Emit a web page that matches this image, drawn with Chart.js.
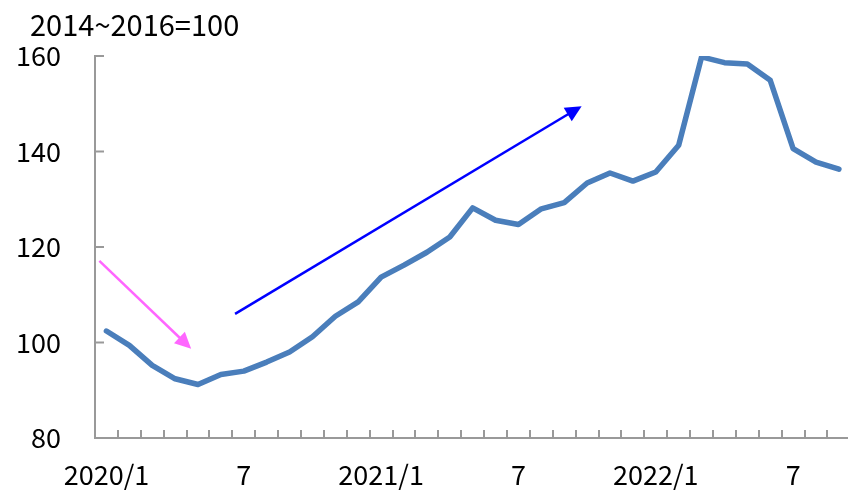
<!DOCTYPE html>
<html>
<head>
<meta charset="utf-8">
<script src="https://cdn.jsdelivr.net/npm/chart.js@4"></script>
<style>
	html, body { margin: 0; padding: 0; background: #fff; overflow: hidden; }
</style>
</head>
<body>
<canvas id="myChart" width="860" height="490"></canvas>
<script>
const ctx = document.getElementById('myChart');

// 2020/1 .. 2022/9, monthly
const months = [
	'2020/1', '', '', '', '', '', '7', '', '', '', '', '',
	'2021/1', '', '', '', '', '', '7', '', '', '', '', '',
	'2022/1', '', '', '', '', '', '7', '', ''
];
const index = [
	102.4, 99.4, 95.2, 92.4, 91.2, 93.3, 94.0, 95.9, 98.0, 101.2, 105.5, 108.5,
	113.7, 116.2, 118.9, 122.1, 128.2, 125.6, 124.7, 128.0, 129.3, 133.4, 135.5, 133.8,
	135.7, 141.3, 159.8, 158.6, 158.3, 154.9, 140.6, 137.8, 136.3
];
const yTicks = [80, 100, 120, 140, 160];
const unitText = '2014~2016=100';

// arrows as [x index, value] start -> tip
const downArrow = [[-0.31, 117.1], [3.7, 98.7]];
const upArrow = [[5.62, 106.0], [20.76, 149.5]];

const FONT = "'Noto Sans CJK KR', 'Noto Sans', sans-serif";
Chart.defaults.font.family = FONT;
Chart.defaults.color = '#000';

const axisColor = '#999999';

const innerTicks = {
	id: 'innerTicks',
	afterDraw(chart) {
		const c = chart.ctx;
		const x = chart.scales.x, y = chart.scales.y;
		c.save();
		c.strokeStyle = axisColor;
		c.lineWidth = 2;
		c.beginPath();
		for (let i = 0; i <= months.length; i++) {
			const px = Math.round(x.getPixelForValue(i - 0.5));
			c.moveTo(px, y.bottom);
			c.lineTo(px, y.bottom - 8);
		}
		yTicks.forEach(v => {
			const py = y.getPixelForValue(v);
			c.moveTo(x.left, py);
			c.lineTo(x.left + 9, py);
		});
		c.stroke();
		c.restore();
	}
};

// unit caption above the y axis
const unitLabel = {
	id: 'unitLabel',
	afterDraw(chart) {
		const c = chart.ctx;
		c.save();
		c.font = '29px ' + FONT;
		c.fillStyle = '#000';
		c.textBaseline = 'middle';
		c.fillText(unitText, 30, 25);
		c.restore();
	}
};

function drawArrow(c, x, y, pts, color, width, head) {
	const x0 = x.getPixelForValue(pts[0][0]), y0 = y.getPixelForValue(pts[0][1]);
	const x1 = x.getPixelForValue(pts[1][0]), y1 = y.getPixelForValue(pts[1][1]);
	const a = Math.atan2(y1 - y0, x1 - x0);
	c.strokeStyle = color;
	c.fillStyle = color;
	c.lineWidth = width;
	c.beginPath();
	c.moveTo(x0, y0);
	c.lineTo(x1 - Math.cos(a) * head * 0.8, y1 - Math.sin(a) * head * 0.8);
	c.stroke();
	c.beginPath();
	c.moveTo(x1, y1);
	c.lineTo(x1 - head * Math.cos(a - 0.45), y1 - head * Math.sin(a - 0.45));
	c.lineTo(x1 - head * Math.cos(a + 0.45), y1 - head * Math.sin(a + 0.45));
	c.closePath();
	c.fill();
}

const arrows = {
	id: 'arrows',
	afterDatasetsDraw(chart) {
		const c = chart.ctx;
		c.save();
		drawArrow(c, chart.scales.x, chart.scales.y, downArrow, '#ff66ff', 2.5, 18);
		drawArrow(c, chart.scales.x, chart.scales.y, upArrow, '#0000ff', 2.5, 18);
		c.restore();
	}
};

new Chart(ctx, {
	type: 'line',
	data: {
		labels: months,
		datasets: [{
			label: 'index',
			data: index,
			borderColor: '#4a7ebb',
			borderWidth: 5.5,
			pointRadius: 0,
			tension: 0,
			borderJoinStyle: 'round',
			borderCapStyle: 'round'
		}]
	},
	options: {
		responsive: false,
		animation: false,
		layout: { padding: { left: 0, right: 6, top: 56, bottom: 0 } },
		plugins: {
			legend: { display: false },
			tooltip: { enabled: false }
		},
		scales: {
			x: {
				offset: true,
				grid: { display: false, drawTicks: false },
				border: { display: true, color: axisColor, width: 2 },
				ticks: {
					autoSkip: false,
					maxRotation: 0,
					padding: 21,
					font: { size: 27 }
				},
				afterFit(scale) { scale.height = 52; }
			},
			y: {
				min: 80,
				max: 160,
				grid: { display: false, drawTicks: false },
				border: { display: true, color: axisColor, width: 2 },
				ticks: {
					stepSize: 20,
					padding: 34,
					font: { size: 27 }
				},
				afterFit(scale) { scale.width = 95; }
			}
		}
	},
	plugins: [innerTicks, arrows, unitLabel]
});
</script>
</body>
</html>
